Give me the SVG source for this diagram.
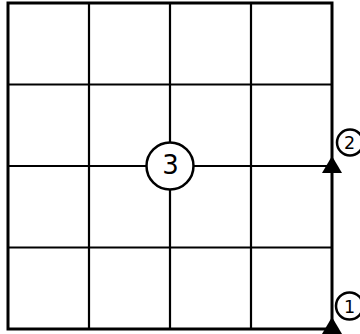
<svg xmlns="http://www.w3.org/2000/svg" width="360" height="334" viewBox="0 0 360 334">
<style>
.outer{fill:none;stroke:#000;stroke-width:3}
.grid{stroke:#000;stroke-width:2.2;fill:none}
.circ{fill:#fff;stroke:#000;stroke-width:2.5}
.lbl{font-family:"DejaVu Sans","Liberation Sans",sans-serif;fill:#000;text-anchor:middle}
.tri{fill:#000}
</style>
<rect width="360" height="334" fill="#fff"/>
<g id="connectors">
<rect class="outer" x="8" y="3" width="324" height="326"/>
<line class="grid" x1="89" y1="3" x2="89" y2="329"/>
<line class="grid" x1="170" y1="3" x2="170" y2="329"/>
<line class="grid" x1="251" y1="3" x2="251" y2="329"/>
<line class="grid" x1="8" y1="84.5" x2="332" y2="84.5"/>
<line class="grid" x1="8" y1="166" x2="332" y2="166"/>
<line class="grid" x1="8" y1="247.5" x2="332" y2="247.5"/>
</g>
<g id="node3">
<circle class="circ" cx="170" cy="166" r="23.5"/>
<text class="lbl" x="170.5" y="174" font-size="26">3</text>
</g>
<g id="node2">
<polygon class="tri" points="332,156 322,173 342,173"/>
<circle class="circ" cx="350" cy="142.5" r="13"/>
<text class="lbl" x="349.5" y="149" font-size="17.5">2</text>
</g>
<g id="node1">
<polygon class="tri" points="332,317 322,334 342,334"/>
<circle class="circ" cx="349.5" cy="306" r="13.5"/>
<text class="lbl" x="349.5" y="312.5" font-size="17.5">1</text>
</g>
</svg>
